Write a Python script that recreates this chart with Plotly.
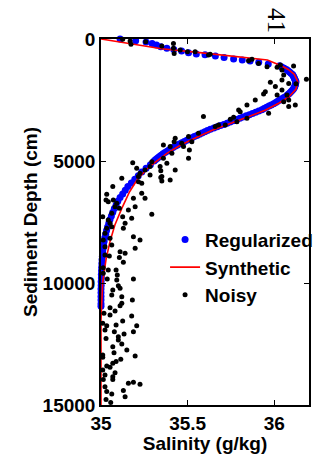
import plotly.graph_objects as go

# ---- Synthetic profile (red line) ----
syn_depth = [0, 200, 400, 560, 700, 860, 1100, 1250, 1450, 1750, 2050, 2365, 2635, 2910,
             3185, 3455, 3730, 4030, 4344, 4690, 5230, 5700, 6260, 6940, 7620, 8300, 8990,
             9950, 10800, 11500, 15000]
syn_sal = [35.00, 35.17, 35.35, 35.57, 35.77, 35.96, 36.04, 36.08, 36.115, 36.135, 36.125,
           36.085, 36.025, 35.95, 35.85, 35.75, 35.645, 35.553, 35.46, 35.38, 35.28, 35.215,
           35.165, 35.12, 35.08, 35.052, 35.03, 35.01, 35.003, 35.0, 35.0]

# ---- Regularized solution (blue dots) ----
reg_depth = [0, 70, 120, 180, 250, 320, 380, 430, 490, 560, 615, 650, 700, 755, 815, 860,
             905, 955, 1025,
             1100, 1150, 1200, 1250, 1300, 1350, 1400, 1450, 1500, 1550, 1600, 1650, 1700,
             1750, 1800, 1850, 1900, 1950, 2000, 2050, 2100, 2150, 2200, 2250, 2300, 2350,
             2400, 2450, 2500, 2550, 2600, 2650, 2700, 2750, 2800, 2850, 2900, 2950, 3000,
             3050, 3100, 3150, 3200, 3250, 3300, 3350, 3400, 3450, 3500, 3550, 3600, 3650,
             3700, 3750, 3800, 3850, 3900, 3950, 4000, 4050, 4100, 4150, 4200, 4250, 4300,
             4350, 4400, 4450, 4500, 4550, 4600, 4650, 4700, 4750, 4800, 4850, 4900, 4950,
             5000, 5150, 5300, 5450, 5600, 5750, 5900, 6050, 6200, 6350, 6500, 6650, 6800,
             6950, 7100, 7250, 7400, 7550, 7700, 7850, 8000, 8150, 8300, 8450, 8600, 8750,
             8900, 9050, 9200, 9350, 9500, 9650, 9800, 9950, 10100, 10250, 10400, 10550,
             10700, 10850, 10950]
reg_sal = [35.11, 35.20, 35.26, 35.295, 35.32, 35.345, 35.38, 35.42, 35.465, 35.505, 35.55,
           35.60, 35.66, 35.71, 35.765, 35.815, 35.86, 35.91, 35.965,
           36.03, 36.043, 36.057, 36.07, 36.079, 36.088, 36.096, 36.105, 36.108, 36.112,
           36.115, 36.118, 36.122, 36.125, 36.123, 36.122, 36.12, 36.118, 36.114, 36.11,
           36.104, 36.097, 36.09, 36.083, 36.075, 36.068, 36.055, 36.043, 36.031, 36.019,
           36.008, 35.996, 35.982, 35.969, 35.955, 35.941, 35.928, 35.91, 35.892, 35.874,
           35.856, 35.838, 35.819, 35.801, 35.782, 35.764, 35.745, 35.727, 35.708, 35.689,
           35.67, 35.651, 35.631, 35.614, 35.599, 35.583, 35.568, 35.553, 35.538, 35.525,
           35.51, 35.495, 35.481, 35.466, 35.452, 35.439, 35.427, 35.415, 35.404, 35.392,
           35.381, 35.369, 35.358, 35.35, 35.341, 35.332, 35.323, 35.314,
           35.306, 35.285, 35.26, 35.235, 35.215, 35.195, 35.175, 35.155, 35.14, 35.125,
           35.11, 35.097, 35.087, 35.077, 35.068, 35.06, 35.052, 35.045, 35.038, 35.032,
           35.027, 35.022, 35.018, 35.015, 35.012, 35.01, 35.008, 35.006, 35.005, 35.004,
           35.003, 35.002, 35.002, 35.001, 35.001, 35.0, 35.0, 35.0, 35.0, 35.0, 35.0]

# ---- Noisy observations (black dots) ----
noisy_sal = [35.125, 35.168, 35.173, 35.258, 35.351, 35.418, 35.418, 35.422, 35.457, 35.499,
             35.543, 35.620, 35.630, 35.851, 35.871, 35.909, 35.958, 36.016, 36.035, 36.044,
             36.111, 36.054, 36.044, 35.977, 36.006, 36.083, 36.125, 36.185, 35.948, 35.938,
             36.044, 36.073, 36.083, 36.054, 36.121, 36.083, 36.016, 35.890, 35.842, 35.794,
             35.803, 35.967, 35.842, 35.765, 35.746, 35.717, 35.591, 35.659, 35.678, 35.784,
             35.562, 35.505, 35.510, 35.505, 35.428, 35.422, 35.360, 35.399, 35.409, 35.466,
             35.476, 35.524, 35.428, 35.360, 35.380, 35.341, 35.345, 35.351, 35.293, 35.283,
             35.254, 35.225, 35.206, 35.183, 35.120, 35.216, 35.399,
             35.068, 35.033, 35.029, 35.042, 35.071, 35.091, 35.081, 35.106, 35.010, 35.062,
             35.125, 35.177, 35.158, 35.197, 35.139, 35.129, 35.042, 35.052, 35.033, 35.023,
             35.062, 35.013, 35.052, 35.187, 35.225, 35.293, 35.254, 35.235, 35.235, 35.216,
             35.283, 35.345, 35.351, 35.187, 35.062, 35.023, 35.023, 35.110, 35.139, 35.197,
             35.048, 35.106, 35.129, 35.013, 35.042, 35.087, 35.094, 35.013, 35.036, 35.187,
             35.091, 35.100, 35.110, 35.068, 35.062, 35.120, 35.181, 35.120, 35.110, 35.052,
             35.081, 35.017, 35.052, 35.177, 35.125, 35.010, 35.033, 35.087, 35.206, 35.023,
             35.187, 35.133,
             35.077, 35.100, 35.029, 35.100, 35.120, 35.068, 35.149, 35.075, 35.010, 35.197,
             35.010, 35.114, 35.087, 35.068, 35.033, 35.052, 35.010, 35.081, 35.023, 35.068,
             35.068, 35.013, 35.158, 35.187, 35.225, 35.023, 35.129, 35.033, 35.062, 35.139,
             35.029, 35.056]
noisy_depth = [10, 80, 220, 110, 290, 180, 380, 590, 450, 520,
               520, 660, 620, 890, 830, 1000, 1140, 1160, 1070, 1270,
               1110, 1480, 1680, 1770, 1950, 1820, 1830, 1650, 2160, 2250,
               2090, 2300, 2500, 2570, 2700, 2770, 2300, 2500, 2700, 2910,
               2980, 3040, 3250, 3210, 3290, 3520, 3180, 3590, 3520, 3390,
               3860, 4000, 4550, 4890, 4070, 4210, 4340, 4410, 4680, 4270,
               4410, 4210, 5370, 4890, 5090, 5230, 5400, 5640, 5030, 5230,
               5370, 5500, 5300, 5070, 5710, 5640, 5780,
               6050, 6360, 6600, 6670, 6600, 6730, 6870, 6940, 7280, 7140,
               7280, 7350, 7010, 6870, 7550, 7760, 7420, 7550, 7760, 7960,
               7690, 8240, 8170, 8100, 8240, 7180, 6530, 6320, 5910, 5850,
               5570, 5680, 5820, 6530, 8440, 8510, 8850, 8720, 8780, 8580,
               8890, 8960, 9150, 9370, 9470, 9470, 9670, 9600, 9840, 9840,
               9880, 10110, 10220, 10290, 10490, 10560, 10700, 10830, 10930, 11010,
               11150, 11240, 11310, 11350, 11560, 11650, 11750, 11720, 11750, 11930,
               12000, 12090,
               12000, 12200, 12270, 12340, 12500, 12610, 12750, 12860, 12950, 12990,
               13040, 13130, 13220, 13290, 13400, 13450, 13570, 13680, 13770, 13840,
               13950, 13950, 14110, 14070, 14150, 14250, 14410, 14450, 14550, 14660,
               14770, 14900]

x_ticks = [35, 35.5, 36]
x_labels = ["35", "35.5", "36"]
y_ticks = [0, 5000, 10000, 15000]
y_labels = ["0", "5000", "10000", "15000"]

FONT = "Liberation Sans, Arial, Helvetica, sans-serif"

fig = go.Figure()
fig.add_trace(go.Scatter(
    x=reg_sal, y=reg_depth, mode="markers", name="Regularized",
    marker=dict(color="#0000ff", size=7, line=dict(width=0)), cliponaxis=False))
fig.add_trace(go.Scatter(
    x=syn_sal, y=syn_depth, mode="lines", name="Synthetic",
    line=dict(color="#ff0000", width=1.6)))
fig.add_trace(go.Scatter(
    x=noisy_sal, y=noisy_depth, mode="markers", name="Noisy",
    marker=dict(color="black", size=5, line=dict(width=0)), cliponaxis=False))

axis_common = dict(
    showgrid=False, zeroline=False, showline=True, linecolor="black", linewidth=1.5,
    mirror="ticks", ticks="inside", ticklen=5, tickwidth=1, tickcolor="black",
    tickfont=dict(family=FONT, size=19, color="black", weight="bold"),
)

fig.update_layout(
    width=322, height=454,
    margin=dict(l=101, r=13, t=39, b=49, autoexpand=False),
    paper_bgcolor="white", plot_bgcolor="white",
    xaxis=dict(range=[35, 36.2], tickvals=x_ticks, ticktext=x_labels,
               title=dict(text="Salinity (g/kg)", standoff=0,
                          font=dict(family=FONT, size=19, color="black", weight="bold")),
               automargin=False, **axis_common),
    yaxis=dict(range=[15000, 0], tickvals=y_ticks, ticktext=y_labels,
               title=dict(text="Sediment Depth (cm)", standoff=0,
                          font=dict(family=FONT, size=19, color="black", weight="bold")),
               automargin=False, **axis_common),
    showlegend=True,
    legend=dict(x=0.308, y=0.504, xanchor="left", yanchor="top",
                bgcolor="rgba(0,0,0,0)", borderwidth=0,
                font=dict(family=FONT, size=19, color="black", weight="bold"),
                tracegroupgap=0, itemwidth=30),
    annotations=[dict(text="41", xref="paper", yref="paper", x=0.846, y=1.049,
                      xanchor="center", yanchor="middle", showarrow=False, textangle=90,
                      font=dict(family="Liberation Serif, Times New Roman, serif", size=25,
                                color="black"))],
)

fig.write_html("out.html")
